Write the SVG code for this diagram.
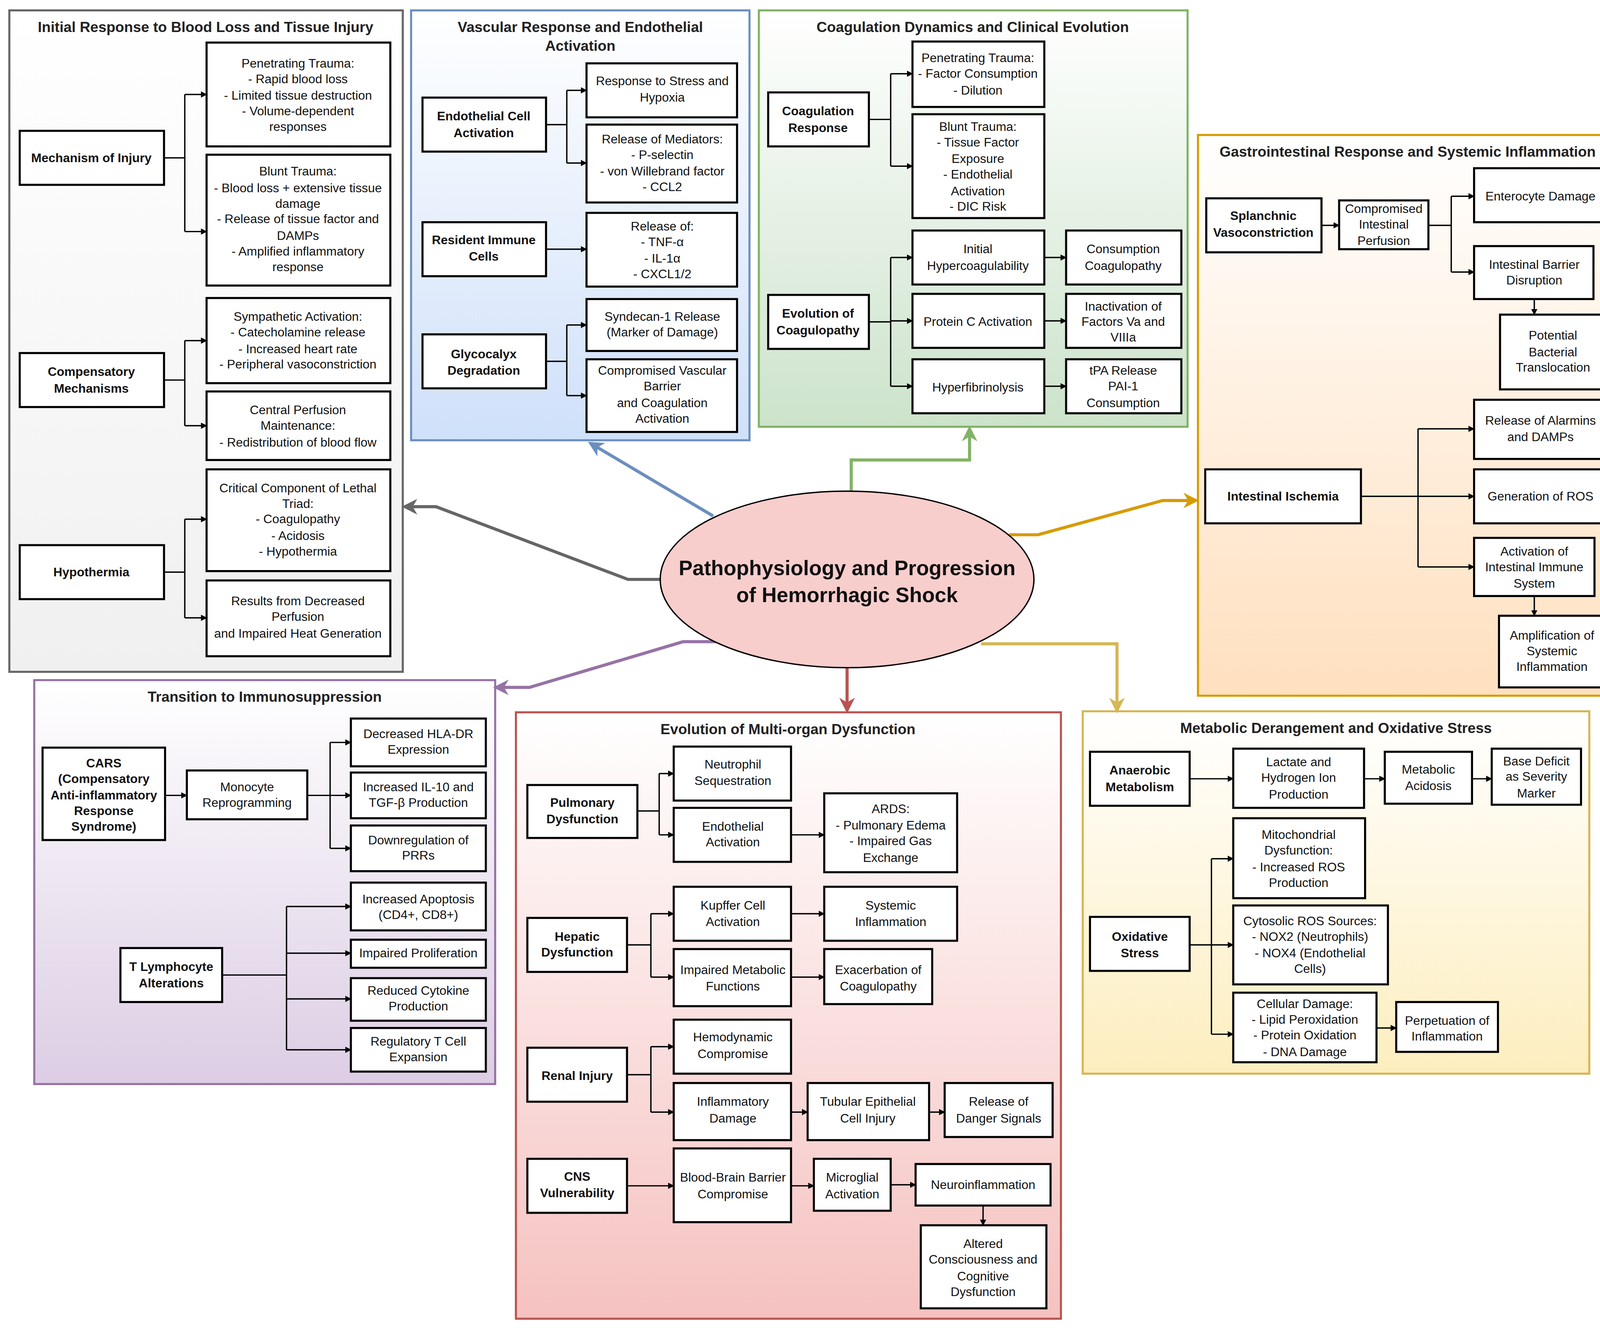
<svg xmlns="http://www.w3.org/2000/svg" width="4167" height="3409" viewBox="0 0 4167 3409">
<defs>
<style>
.n{fill:#fff;stroke:#000;stroke-width:2}
text{font-family:"Liberation Sans",Arial,sans-serif;font-size:12px;text-anchor:middle;fill:#111}
.b{font-weight:bold}
.t{font-weight:bold;font-size:14px;fill:#222}
.c{fill:none;stroke:#000;stroke-width:1.3;marker-end:url(#a)}
.l{fill:none;stroke:#000;stroke-width:1.3}
.m{fill:none;stroke-width:3}
</style>
<marker id="a" viewBox="0 0 10 10" refX="9" refY="5" markerWidth="6" markerHeight="6" orient="auto" markerUnits="userSpaceOnUse"><path d="M0,0L10,5L0,10z" fill="#000"/></marker>
<marker id="g" viewBox="0 0 10 10" refX="8" refY="5" markerWidth="5" markerHeight="5" orient="auto"><path d="M0,0L10,5L0,10L3,5z" fill="context-stroke"/></marker>
<linearGradient id="p1" x1="0" y1="0" x2="0" y2="1"><stop offset="0" stop-color="#fff"/><stop offset="1" stop-color="#f0f0f0"/></linearGradient>
<linearGradient id="p2" x1="0" y1="0" x2="0" y2="1"><stop offset="0" stop-color="#fff"/><stop offset="1" stop-color="#cfe0fa"/></linearGradient>
<linearGradient id="p3" x1="0" y1="0" x2="0" y2="1"><stop offset="0" stop-color="#fff"/><stop offset="1" stop-color="#cce3cb"/></linearGradient>
<linearGradient id="p4" x1="0" y1="0" x2="0" y2="1"><stop offset="0" stop-color="#fff"/><stop offset="1" stop-color="#ffe0bf"/></linearGradient>
<linearGradient id="p5" x1="0" y1="0" x2="0" y2="1"><stop offset="0" stop-color="#fff"/><stop offset="1" stop-color="#dccde4"/></linearGradient>
<linearGradient id="p6" x1="0" y1="0" x2="0" y2="1"><stop offset="0" stop-color="#fff"/><stop offset="1" stop-color="#f5c2c0"/></linearGradient>
<linearGradient id="p7" x1="0" y1="0" x2="0" y2="1"><stop offset="0" stop-color="#fff"/><stop offset="1" stop-color="#fdeebf"/></linearGradient>
</defs>
<rect width="4167" height="3409" fill="#fff"/>
<g transform="scale(2.6575)">
<g id="panels">
<rect id="panel-initial" x="9" y="10" width="379" height="637" fill="url(#p1)" stroke="#666" stroke-width="2"/>
<rect id="panel-vascular" x="396" y="10" width="326" height="414" fill="url(#p2)" stroke="#6c8ebf" stroke-width="2"/>
<rect id="panel-coag" x="731" y="10" width="413" height="401" fill="url(#p3)" stroke="#82b366" stroke-width="2"/>
<rect id="panel-gi" x="1154" y="130" width="404" height="540" fill="url(#p4)" stroke="#d79b00" stroke-width="2"/>
<rect id="panel-immuno" x="33" y="655" width="444" height="389" fill="url(#p5)" stroke="#9673a6" stroke-width="2"/>
<rect id="panel-mod" x="497" y="686" width="525" height="584" fill="url(#p6)" stroke="#b85450" stroke-width="2"/>
<rect id="panel-meta" x="1043" y="685" width="488" height="349" fill="url(#p7)" stroke="#d6b656" stroke-width="2"/>
<text class="t" x="198" y="31">Initial Response to Blood Loss and Tissue Injury</text>
<text class="t" x="559" y="31">Vascular Response and Endothelial</text>
<text class="t" x="559" y="49">Activation</text>
<text class="t" x="937" y="31">Coagulation Dynamics and Clinical Evolution</text>
<text class="t" x="1356" y="151">Gastrointestinal Response and Systemic Inflammation</text>
<text class="t" x="255" y="676">Transition to Immunosuppression</text>
<text class="t" x="759" y="707">Evolution of Multi-organ Dysfunction</text>
<text class="t" x="1287" y="706">Metabolic Derangement and Oxidative Stress</text>
</g>
<g id="connectors">
<path class="l" d="M158,152H178M178,91V223"/><path class="c" d="M178,91H199"/><path class="c" d="M178,223H199"/>
<path class="l" d="M158,366H178M178,328V410"/><path class="c" d="M178,328H199"/><path class="c" d="M178,410H199"/>
<path class="l" d="M158,551H178M178,500V595"/><path class="c" d="M178,500H199"/><path class="c" d="M178,595H199"/>
<path class="l" d="M526,120H546M546,87V157"/><path class="c" d="M546,87H565"/><path class="c" d="M546,157H565"/>
<path class="c" d="M526,240H565"/>
<path class="l" d="M526,348H546M546,313V381"/><path class="c" d="M546,313H565"/><path class="c" d="M546,381H565"/>
<path class="l" d="M837,115H858M858,71V160"/><path class="c" d="M858,71H879"/><path class="c" d="M858,160H879"/>
<path class="l" d="M837,310H858M858,248V372"/><path class="c" d="M858,248H879"/><path class="c" d="M858,309H879"/><path class="c" d="M858,372H879"/>
<path class="c" d="M1006,248H1027"/><path class="c" d="M1006,309H1027"/><path class="c" d="M1006,372H1027"/>
<path class="c" d="M1273,217H1290"/>
<path class="l" d="M1376,217H1398M1398,189V262"/><path class="c" d="M1398,189H1420"/><path class="c" d="M1398,262H1420"/>
<path class="c" d="M1478,288V303"/>
<path class="c" d="M1311,478H1420"/>
<path class="l" d="M1366,413V546"/><path class="c" d="M1366,413H1420"/><path class="c" d="M1366,546H1420"/>
<path class="c" d="M1478,574V593"/>
<path class="c" d="M159,766H180"/>
<path class="l" d="M296,766H318M318,715V817"/><path class="c" d="M318,715H338"/><path class="c" d="M318,766H338"/><path class="c" d="M318,817H338"/>
<path class="l" d="M214,939H276M276,873V1011"/><path class="c" d="M276,873H338"/><path class="c" d="M276,918H338"/><path class="c" d="M276,962H338"/><path class="c" d="M276,1011H338"/>
<path class="l" d="M614,781H635M635,745V804"/><path class="c" d="M635,745H649"/><path class="c" d="M635,804H649"/>
<path class="c" d="M762,804H794"/>
<path class="l" d="M604,910H627M627,880V941"/><path class="c" d="M627,880H649"/><path class="c" d="M627,941H649"/>
<path class="c" d="M762,880H794"/><path class="c" d="M762,941H794"/>
<path class="l" d="M604,1035H627M627,1008V1071"/><path class="c" d="M627,1008H649"/><path class="c" d="M627,1071H649"/>
<path class="c" d="M762,1071H778"/><path class="c" d="M895,1071H910"/>
<path class="c" d="M604,1142H649"/><path class="c" d="M762,1142H784"/><path class="c" d="M858,1141H882"/><path class="c" d="M947,1161V1180"/>
<path class="c" d="M1146,750H1188"/><path class="c" d="M1314,750H1334"/><path class="c" d="M1418,750H1437"/>
<path class="l" d="M1146,910H1167M1167,827V996"/><path class="c" d="M1167,827H1188"/><path class="c" d="M1167,910H1188"/><path class="c" d="M1167,996H1188"/>
<path class="c" d="M1326,990H1345"/>
<path class="m" stroke="#666" marker-end="url(#g)" d="M638,558H605L420,488H390"/>
<path class="m" stroke="#6c8ebf" marker-end="url(#g)" d="M687,497L569,427"/>
<path class="m" stroke="#82b366" marker-end="url(#g)" d="M820,474V443H934V413"/>
<path class="m" stroke="#d79b00" marker-end="url(#g)" d="M972,515H1000L1120,482H1152"/>
<path class="m" stroke="#9673a6" marker-end="url(#g)" d="M690,618H658L510,662H478"/>
<path class="m" stroke="#b85450" marker-end="url(#g)" d="M816,643V684"/>
<path class="m" stroke="#d6b656" marker-end="url(#g)" d="M945,620H1076V684"/>
</g>
<g id="center"><ellipse cx="816" cy="558" rx="180" ry="85" fill="#f8cecc" stroke="#000" stroke-width="1.3"/>
<text class="b" x="816" y="554" style="font-size:20px">Pathophysiology and Progression</text>
<text class="b" x="816" y="580" style="font-size:20px">of Hemorrhagic Shock</text></g>

<g id="n-mech"><rect class="n" x="19" y="126" width="139" height="52"/><text class="b" x="88" y="156">Mechanism of Injury</text></g>
<g id="n-pen"><rect class="n" x="199" y="41" width="177" height="100"/><text x="287" y="65">Penetrating Trauma:</text><text x="287" y="80">- Rapid blood loss</text><text x="287" y="96">- Limited tissue destruction</text><text x="287" y="111">- Volume-dependent</text><text x="287" y="126">responses</text></g>
<g id="n-blunt"><rect class="n" x="199" y="149" width="177" height="126"/><text x="287" y="169">Blunt Trauma:</text><text x="287" y="185">- Blood loss + extensive tissue</text><text x="287" y="200">damage</text><text x="287" y="215">- Release of tissue factor and</text><text x="287" y="231">DAMPs</text><text x="287" y="246">- Amplified inflammatory</text><text x="287" y="261">response</text></g>
<g id="n-comp"><rect class="n" x="19" y="340" width="139" height="52"/><text class="b" x="88" y="362">Compensatory</text><text class="b" x="88" y="378">Mechanisms</text></g>
<g id="n-symp"><rect class="n" x="199" y="287" width="177" height="82"/><text x="287" y="309">Sympathetic Activation:</text><text x="287" y="324">- Catecholamine release</text><text x="287" y="340">- Increased heart rate</text><text x="287" y="355">- Peripheral vasoconstriction</text></g>
<g id="n-central"><rect class="n" x="199" y="377" width="177" height="66"/><text x="287" y="399">Central Perfusion</text><text x="287" y="414">Maintenance:</text><text x="287" y="430">- Redistribution of blood flow</text></g>
<g id="n-hypo"><rect class="n" x="19" y="525" width="139" height="52"/><text class="b" x="88" y="555">Hypothermia</text></g>
<g id="n-crit"><rect class="n" x="199" y="452" width="177" height="98"/><text x="287" y="474">Critical Component of Lethal</text><text x="287" y="489">Triad:</text><text x="287" y="504">- Coagulopathy</text><text x="287" y="520">- Acidosis</text><text x="287" y="535">- Hypothermia</text></g>
<g id="n-results"><rect class="n" x="199" y="559" width="177" height="73"/><text x="287" y="583">Results from Decreased</text><text x="287" y="598">Perfusion</text><text x="287" y="614">and Impaired Heat Generation</text></g>

<g id="n-endo"><rect class="n" x="407" y="94" width="119" height="52"/><text class="b" x="466" y="116">Endothelial Cell</text><text class="b" x="466" y="132">Activation</text></g>
<g id="n-stress"><rect class="n" x="565" y="61" width="145" height="52"/><text x="638" y="82">Response to Stress and</text><text x="638" y="98">Hypoxia</text></g>
<g id="n-med"><rect class="n" x="565" y="120" width="145" height="75"/><text x="638" y="138">Release of Mediators:</text><text x="638" y="153">- P-selectin</text><text x="638" y="169">- von Willebrand factor</text><text x="638" y="184">- CCL2</text></g>
<g id="n-resident"><rect class="n" x="407" y="214" width="119" height="52"/><text class="b" x="466" y="235">Resident Immune</text><text class="b" x="466" y="251">Cells</text></g>
<g id="n-relof"><rect class="n" x="565" y="205" width="145" height="71"/><text x="638" y="222">Release of:</text><text x="638" y="237">- TNF-α</text><text x="638" y="253">- IL-1α</text><text x="638" y="268">- CXCL1/2</text></g>
<g id="n-glyco"><rect class="n" x="407" y="322" width="119" height="52"/><text class="b" x="466" y="345">Glycocalyx</text><text class="b" x="466" y="361">Degradation</text></g>
<g id="n-synd"><rect class="n" x="565" y="288" width="145" height="50"/><text x="638" y="309">Syndecan-1 Release</text><text x="638" y="324">(Marker of Damage)</text></g>
<g id="n-compvasc"><rect class="n" x="565" y="346" width="145" height="70"/><text x="638" y="361">Compromised Vascular</text><text x="638" y="376">Barrier</text><text x="638" y="392">and Coagulation</text><text x="638" y="407">Activation</text></g>

<g id="n-coagresp"><rect class="n" x="740" y="89" width="97" height="52"/><text class="b" x="788" y="111">Coagulation</text><text class="b" x="788" y="127">Response</text></g>
<g id="n-pen2"><rect class="n" x="879" y="40" width="127" height="63"/><text x="942" y="60">Penetrating Trauma:</text><text x="942" y="75">- Factor Consumption</text><text x="942" y="91">- Dilution</text></g>
<g id="n-blunt2"><rect class="n" x="879" y="110" width="127" height="100"/><text x="942" y="126">Blunt Trauma:</text><text x="942" y="141">- Tissue Factor</text><text x="942" y="157">Exposure</text><text x="942" y="172">- Endothelial</text><text x="942" y="188">Activation</text><text x="942" y="203">- DIC Risk</text></g>
<g id="n-evol"><rect class="n" x="740" y="284" width="97" height="52"/><text class="b" x="788" y="306">Evolution of</text><text class="b" x="788" y="322">Coagulopathy</text></g>
<g id="n-hyperco"><rect class="n" x="879" y="222" width="127" height="52"/><text x="942" y="244">Initial</text><text x="942" y="260">Hypercoagulability</text></g>
<g id="n-consump"><rect class="n" x="1027" y="222" width="111" height="52"/><text x="1082" y="244">Consumption</text><text x="1082" y="260">Coagulopathy</text></g>
<g id="n-protc"><rect class="n" x="879" y="283" width="127" height="52"/><text x="942" y="314">Protein C Activation</text></g>
<g id="n-inact"><rect class="n" x="1027" y="283" width="111" height="52"/><text x="1082" y="299">Inactivation of</text><text x="1082" y="314">Factors Va and</text><text x="1082" y="329">VIIIa</text></g>
<g id="n-hyperf"><rect class="n" x="879" y="346" width="127" height="52"/><text x="942" y="377">Hyperfibrinolysis</text></g>
<g id="n-tpa"><rect class="n" x="1027" y="346" width="111" height="52"/><text x="1082" y="361">tPA Release</text><text x="1082" y="376">PAI-1</text><text x="1082" y="392">Consumption</text></g>

<g id="n-splan"><rect class="n" x="1162" y="191" width="111" height="52"/><text class="b" x="1217" y="212">Splanchnic</text><text class="b" x="1217" y="228">Vasoconstriction</text></g>
<g id="n-compint"><rect class="n" x="1290" y="193" width="86" height="47"/><text x="1333" y="205">Compromised</text><text x="1333" y="220">Intestinal</text><text x="1333" y="236">Perfusion</text></g>
<g id="n-entero"><rect class="n" x="1420" y="162" width="129" height="52"/><text x="1484" y="193">Enterocyte Damage</text></g>
<g id="n-barrier"><rect class="n" x="1420" y="237" width="115" height="51"/><text x="1478" y="259">Intestinal Barrier</text><text x="1478" y="274">Disruption</text></g>
<g id="n-bact"><rect class="n" x="1445" y="303" width="103" height="72"/><text x="1496" y="327">Potential</text><text x="1496" y="343">Bacterial</text><text x="1496" y="358">Translocation</text></g>
<g id="n-isch"><rect class="n" x="1161" y="452" width="150" height="52"/><text class="b" x="1236" y="482">Intestinal Ischemia</text></g>
<g id="n-alarm"><rect class="n" x="1420" y="385" width="129" height="57"/><text x="1484" y="409">Release of Alarmins</text><text x="1484" y="425">and DAMPs</text></g>
<g id="n-ros"><rect class="n" x="1420" y="452" width="129" height="52"/><text x="1484" y="482">Generation of ROS</text></g>
<g id="n-actimm"><rect class="n" x="1420" y="518" width="116" height="56"/><text x="1478" y="535">Activation of</text><text x="1478" y="550">Intestinal Immune</text><text x="1478" y="566">System</text></g>
<g id="n-ampl"><rect class="n" x="1444" y="593" width="103" height="69"/><text x="1495" y="616">Amplification of</text><text x="1495" y="631">Systemic</text><text x="1495" y="646">Inflammation</text></g>

<g id="n-cars"><rect class="n" x="41" y="720" width="118" height="89"/><text class="b" x="100" y="739">CARS</text><text class="b" x="100" y="754">(Compensatory</text><text class="b" x="100" y="770">Anti-inflammatory</text><text class="b" x="100" y="785">Response</text><text class="b" x="100" y="800">Syndrome)</text></g>
<g id="n-mono"><rect class="n" x="180" y="742" width="116" height="47"/><text x="238" y="762">Monocyte</text><text x="238" y="777">Reprogramming</text></g>
<g id="n-hla"><rect class="n" x="338" y="692" width="130" height="46"/><text x="403" y="711">Decreased HLA-DR</text><text x="403" y="726">Expression</text></g>
<g id="n-il10"><rect class="n" x="338" y="744" width="130" height="44"/><text x="403" y="762">Increased IL-10 and</text><text x="403" y="777">TGF-β Production</text></g>
<g id="n-prr"><rect class="n" x="338" y="795" width="130" height="44"/><text x="403" y="813">Downregulation of</text><text x="403" y="828">PRRs</text></g>
<g id="n-tlym"><rect class="n" x="116" y="913" width="98" height="52"/><text class="b" x="165" y="935">T Lymphocyte</text><text class="b" x="165" y="951">Alterations</text></g>
<g id="n-apop"><rect class="n" x="338" y="850" width="130" height="46"/><text x="403" y="870">Increased Apoptosis</text><text x="403" y="885">(CD4+, CD8+)</text></g>
<g id="n-prolif"><rect class="n" x="338" y="905" width="130" height="27"/><text x="403" y="922">Impaired Proliferation</text></g>
<g id="n-cyto"><rect class="n" x="338" y="942" width="130" height="41"/><text x="403" y="958">Reduced Cytokine</text><text x="403" y="973">Production</text></g>
<g id="n-treg"><rect class="n" x="338" y="990" width="130" height="42"/><text x="403" y="1007">Regulatory T Cell</text><text x="403" y="1022">Expansion</text></g>

<g id="n-pulm"><rect class="n" x="508" y="756" width="106" height="51"/><text class="b" x="561" y="777">Pulmonary</text><text class="b" x="561" y="793">Dysfunction</text></g>
<g id="n-neut"><rect class="n" x="649" y="719" width="113" height="52"/><text x="706" y="740">Neutrophil</text><text x="706" y="756">Sequestration</text></g>
<g id="n-endoact"><rect class="n" x="649" y="778" width="113" height="52"/><text x="706" y="800">Endothelial</text><text x="706" y="815">Activation</text></g>
<g id="n-ards"><rect class="n" x="794" y="764" width="128" height="76"/><text x="858" y="783">ARDS:</text><text x="858" y="799">- Pulmonary Edema</text><text x="858" y="814">- Impaired Gas</text><text x="858" y="830">Exchange</text></g>
<g id="n-hep"><rect class="n" x="508" y="884" width="96" height="52"/><text class="b" x="556" y="906">Hepatic</text><text class="b" x="556" y="921">Dysfunction</text></g>
<g id="n-kupf"><rect class="n" x="649" y="854" width="113" height="52"/><text x="706" y="876">Kupffer Cell</text><text x="706" y="892">Activation</text></g>
<g id="n-sysinf"><rect class="n" x="794" y="854" width="128" height="52"/><text x="858" y="876">Systemic</text><text x="858" y="892">Inflammation</text></g>
<g id="n-impmet"><rect class="n" x="649" y="914" width="113" height="55"/><text x="706" y="938">Impaired Metabolic</text><text x="706" y="954">Functions</text></g>
<g id="n-exac"><rect class="n" x="794" y="914" width="104" height="53"/><text x="846" y="938">Exacerbation of</text><text x="846" y="954">Coagulopathy</text></g>
<g id="n-renal"><rect class="n" x="508" y="1009" width="96" height="52"/><text class="b" x="556" y="1040">Renal Injury</text></g>
<g id="n-hemo"><rect class="n" x="649" y="982" width="113" height="52"/><text x="706" y="1003">Hemodynamic</text><text x="706" y="1019">Compromise</text></g>
<g id="n-infdam"><rect class="n" x="649" y="1043" width="113" height="55"/><text x="706" y="1065">Inflammatory</text><text x="706" y="1081">Damage</text></g>
<g id="n-tub"><rect class="n" x="778" y="1043" width="117" height="55"/><text x="836" y="1065">Tubular Epithelial</text><text x="836" y="1081">Cell Injury</text></g>
<g id="n-danger"><rect class="n" x="910" y="1043" width="104" height="52"/><text x="962" y="1065">Release of</text><text x="962" y="1081">Danger Signals</text></g>
<g id="n-cns"><rect class="n" x="508" y="1116" width="96" height="52"/><text class="b" x="556" y="1137">CNS</text><text class="b" x="556" y="1153">Vulnerability</text></g>
<g id="n-bbb"><rect class="n" x="649" y="1106" width="113" height="71"/><text x="706" y="1138">Blood-Brain Barrier</text><text x="706" y="1154">Compromise</text></g>
<g id="n-micro"><rect class="n" x="784" y="1116" width="74" height="50"/><text x="821" y="1138">Microglial</text><text x="821" y="1154">Activation</text></g>
<g id="n-neuro"><rect class="n" x="882" y="1121" width="130" height="40"/><text x="947" y="1145">Neuroinflammation</text></g>
<g id="n-alt"><rect class="n" x="887" y="1180" width="121" height="80"/><text x="947" y="1202">Altered</text><text x="947" y="1217">Consciousness and</text><text x="947" y="1233">Cognitive</text><text x="947" y="1248">Dysfunction</text></g>

<g id="n-anaer"><rect class="n" x="1050" y="724" width="96" height="52"/><text class="b" x="1098" y="746">Anaerobic</text><text class="b" x="1098" y="762">Metabolism</text></g>
<g id="n-lact"><rect class="n" x="1188" y="721" width="126" height="57"/><text x="1251" y="738">Lactate and</text><text x="1251" y="753">Hydrogen Ion</text><text x="1251" y="769">Production</text></g>
<g id="n-acid"><rect class="n" x="1334" y="724" width="84" height="50"/><text x="1376" y="745">Metabolic</text><text x="1376" y="761">Acidosis</text></g>
<g id="n-base"><rect class="n" x="1437" y="721" width="86" height="54"/><text x="1480" y="737">Base Deficit</text><text x="1480" y="752">as Severity</text><text x="1480" y="768">Marker</text></g>
<g id="n-ox"><rect class="n" x="1050" y="883" width="96" height="52"/><text class="b" x="1098" y="906">Oxidative</text><text class="b" x="1098" y="922">Stress</text></g>
<g id="n-mito"><rect class="n" x="1188" y="788" width="127" height="77"/><text x="1251" y="808">Mitochondrial</text><text x="1251" y="823">Dysfunction:</text><text x="1251" y="839">- Increased ROS</text><text x="1251" y="854">Production</text></g>
<g id="n-cytros"><rect class="n" x="1188" y="872" width="149" height="76"/><text x="1262" y="891">Cytosolic ROS Sources:</text><text x="1262" y="906">- NOX2 (Neutrophils)</text><text x="1262" y="922">- NOX4 (Endothelial</text><text x="1262" y="937">Cells)</text></g>
<g id="n-cell"><rect class="n" x="1188" y="956" width="138" height="67"/><text x="1257" y="971">Cellular Damage:</text><text x="1257" y="986">- Lipid Peroxidation</text><text x="1257" y="1001">- Protein Oxidation</text><text x="1257" y="1017">- DNA Damage</text></g>
<g id="n-perp"><rect class="n" x="1345" y="965" width="98" height="48"/><text x="1394" y="987">Perpetuation of</text><text x="1394" y="1002">Inflammation</text></g>
</g>
</svg>
